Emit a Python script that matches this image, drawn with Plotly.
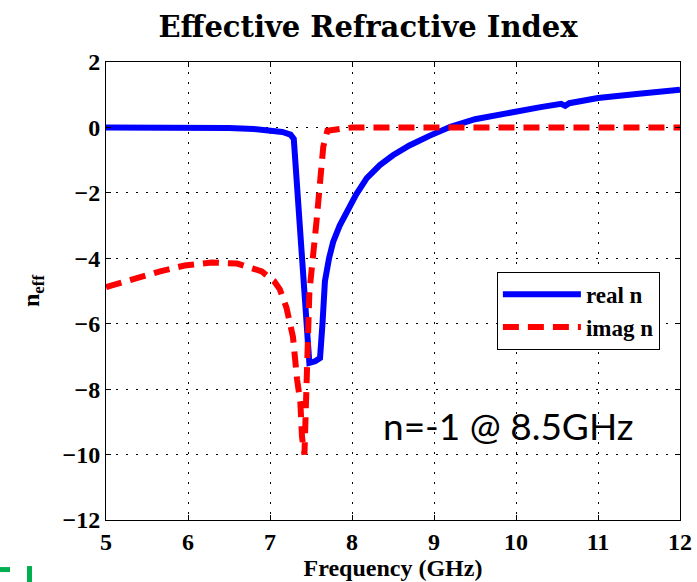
import plotly.graph_objects as go

# Real part of the effective index
real_freq = [5.0, 5.5, 6.0, 6.5, 6.8, 7.0, 7.15, 7.25, 7.29, 7.33, 7.38, 7.43, 7.48, 7.55, 7.61,
             7.64, 7.67, 7.72, 7.77, 7.85, 7.94, 8.05, 8.18, 8.34, 8.5, 8.7, 8.95, 9.2, 9.5,
             9.95, 10.3, 10.55, 10.6, 10.65, 11.0, 11.5, 12.0]
real_n = [0.0, 0.0, 0.0, -0.02, -0.05, -0.08, -0.14, -0.22, -0.35, -1.8, -3.6, -5.5, -7.2, -7.15, -7.05,
          -6.0, -4.7, -4.0, -3.5, -3.0, -2.55, -2.05, -1.55, -1.15, -0.85, -0.55, -0.25, 0.02, 0.25,
          0.48, 0.62, 0.72, 0.66, 0.74, 0.9, 1.03, 1.15]

# Imaginary part of the effective index
imag_freq = [5.0, 5.35, 5.66, 5.96, 6.29, 6.6, 6.9, 7.05, 7.12, 7.2, 7.28, 7.33, 7.37, 7.39, 7.41,
             7.42, 7.45, 7.48, 7.57, 7.65, 7.7, 7.85, 8.0, 9.0, 10.0, 11.0, 12.0]
imag_n = [-4.88, -4.6, -4.4, -4.22, -4.13, -4.16, -4.4, -4.7, -4.95, -5.5, -6.4, -7.7, -8.4, -9.45, -9.95,
          -10.0, -7.5, -5.05, -2.8, -0.58, -0.1, -0.05, 0.0, 0.0, 0.0, 0.0, 0.0]

x_ticks = [5, 6, 7, 8, 9, 10, 11, 12]
y_ticks = [2, 0, -2, -4, -6, -8, -10, -12]

serif = "Liberation Serif"
bold_font = dict(family=serif, size=24, color="black", weight="bold")

fig = go.Figure()
fig.add_trace(go.Scatter(x=real_freq, y=real_n, mode="lines", name="real n",
                         line=dict(color="#0000ff", width=6)))
fig.add_trace(go.Scatter(x=imag_freq, y=imag_n, mode="lines", name="imag n",
                         line=dict(color="#ff0000", width=6, dash="16px,9px")))

axis_common = dict(
    showgrid=True, gridcolor="black", griddash="2px,8px", gridwidth=1,
    showline=True, linecolor="black", linewidth=1, mirror="ticks",
    ticks="inside", ticklen=5, tickcolor="black", zeroline=False,
    tickfont=bold_font, automargin=False,
)

fig.update_xaxes(range=[5, 12], tickvals=x_ticks, ticktext=[f"<b>{v}</b>" for v in x_ticks],
                 title=dict(text="Frequency (GHz)", font=bold_font, standoff=0),
                 **axis_common)
fig.update_yaxes(range=[-12, 2], tickvals=y_ticks,
                 ticktext=["<b>" + str(v).replace("-", "\u2212") + "</b>" for v in y_ticks],
                 title=dict(text="n<sub>eff</sub>", font=bold_font, standoff=16),
                 **axis_common)

fig.add_annotation(x=9.9, y=-9.1, xref="x", yref="y", text="n=-1 @ 8.5GHz", showarrow=False,
                   font=dict(family="Lato", size=37, color="black"))

# small green bracket mark in the lower-left corner
fig.add_shape(type="rect", xref="paper", yref="paper",
              x0=-106 / 574, x1=-96 / 574, y0=-52 / 457.5, y1=-47 / 457.5,
              fillcolor="#00b050", line=dict(width=0))
fig.add_shape(type="rect", xref="paper", yref="paper",
              x0=-79 / 574, x1=-74 / 574, y0=-62 / 457.5, y1=-46 / 457.5,
              fillcolor="#00b050", line=dict(width=0))

fig.update_layout(
    width=697, height=582,
    margin=dict(l=106, r=17, t=62, b=62),
    paper_bgcolor="white", plot_bgcolor="white",
    title=dict(text="Effective Refractive Index", x=368 / 697, xanchor="center", y=1 - 27 / 582,
               yanchor="middle",
               font=dict(family="DejaVu Serif", size=29, color="black", weight="bold")),
    legend=dict(x=0.681, y=0.542, xanchor="left", yanchor="top",
                bgcolor="white", bordercolor="black", borderwidth=1,
                font=dict(family=serif, size=23, color="black", weight="bold"), itemwidth=78,
                tracegroupgap=0),
    showlegend=True,
)

fig.write_html("out.html")
